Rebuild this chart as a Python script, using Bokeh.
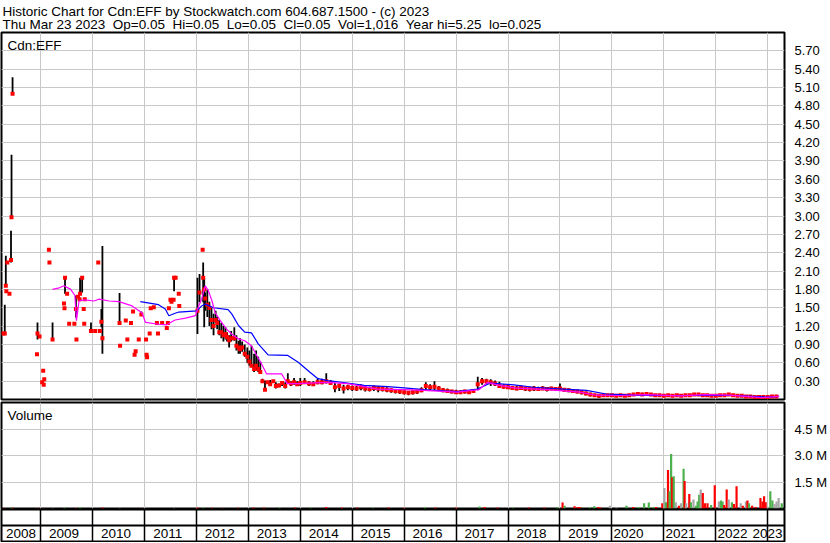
import numpy as np
from bokeh.plotting import figure
from bokeh.layouts import column
from bokeh.models import (Range1d, FixedTicker, Label, NumeralTickFormatter,
                          ColumnDataSource, Span, CustomJSTickFormatter)
from bokeh.embed import file_html
from bokeh.resources import INLINE
from bokeh.core.properties import value

# ---------------- data ----------------
title_line1 = "Historic Chart for Cdn:EFF by Stockwatch.com 604.687.1500 - (c) 2023"
title_line2 = "Thu Mar 23 2023  Op=0.05  Hi=0.05  Lo=0.05  Cl=0.05  Vol=1,016  Year hi=5.25  lo=0.025"
symbol = "Cdn:EFF"

year_labels = [2008, 2009, 2010, 2011, 2012, 2013, 2014, 2015, 2016, 2017,
               2018, 2019, 2020, 2021, 2022, 2023]
price_ticks = [0.3, 0.6, 0.9, 1.2, 1.5, 1.8, 2.1, 2.4, 2.7, 3.0, 3.3, 3.6,
               3.9, 4.2, 4.5, 4.8, 5.1, 5.4, 5.7]
volume_ticks = [1.5, 3.0, 4.5]   # millions

# irregular trading 2008 - 2013 (decimal year, high, low, close)
early_t = [2008.28, 2008.31, 2008.33, 2008.34, 2008.36, 2008.40, 2008.43, 2008.44, 2008.46,
           2008.93, 2008.94, 2008.98, 2009.03, 2009.05, 2009.06, 2009.07, 2009.16, 2009.17,
           2009.23, 2009.45, 2009.46, 2009.47, 2009.51, 2009.55, 2009.65, 2009.68, 2009.69,
           2009.72, 2009.75, 2009.76, 2009.80, 2009.83, 2009.84, 2009.85, 2009.97, 2010.05,
           2010.11, 2010.14, 2010.17, 2010.19, 2010.52, 2010.53, 2010.64, 2010.67, 2010.74,
           2010.78, 2010.81, 2010.83, 2010.89, 2010.94, 2011.03, 2011.04, 2011.05, 2011.10,
           2011.12, 2011.18, 2011.24, 2011.26, 2011.34, 2011.43, 2011.45, 2011.47, 2011.50,
           2011.52, 2011.56, 2011.57, 2011.60, 2011.66, 2011.67, 2012.02, 2012.06, 2012.12,
           2012.13, 2012.15, 2012.17, 2012.21, 2012.25, 2012.29, 2012.33, 2012.37, 2012.40,
           2012.44, 2012.48, 2012.52, 2012.56, 2012.59, 2012.63, 2012.67, 2012.73, 2012.77,
           2012.81, 2012.84, 2012.88, 2012.93, 2012.98, 2013.02, 2013.06, 2013.11, 2013.15,
           2013.19, 2013.23, 2013.27, 2013.32, 2013.37, 2013.42, 2013.48, 2013.53, 2013.59,
           2013.65, 2013.71, 2013.76, 2013.82, 2013.88, 2013.94]
early_hi = [1.08, 1.55, 2.35, 1.77, 2.24, 1.73, 2.76, 4.00, 5.27,
            0.74, 1.26, 1.03, 0.28, 0.47, 0.24, 0.33, 2.45, 2.24,
            1.26, 1.57, 1.49, 1.99, 1.73, 1.24, 1.24, 1.70, 0.98,
            1.68, 1.64, 1.99, 1.99, 1.48, 1.24, 1.64, 1.26, 1.12,
            2.24, 1.12, 1.48, 2.51, 1.74, 0.88, 1.29, 0.98, 1.25,
            1.44, 0.73, 0.79, 0.98, 1.44, 0.98, 0.73, 0.69, 1.08,
            1.49, 1.51, 1.25, 1.08, 1.25, 1.17, 1.25, 1.49, 1.63,
            1.60, 1.63, 1.99, 1.99, 1.73, 1.53, 1.99, 2.05, 2.45,
            2.24, 1.99, 1.75, 1.80, 1.60, 1.50, 1.40, 1.45, 1.35,
            1.30, 1.25, 1.20, 1.18, 1.10, 1.05, 1.12, 1.18, 1.05,
            0.96, 1.00, 0.95, 0.90, 0.85, 0.80, 0.88, 0.75, 0.80,
            0.70, 0.62, 0.34, 0.31, 0.30, 0.32, 0.30, 0.28, 0.26,
            0.30, 0.28, 0.43, 0.30, 0.35, 0.30]
early_lo = [1.08, 1.08, 1.86, 1.77, 2.24, 1.73, 2.24, 2.98, 5.00,
            0.74, 0.98, 1.03, 0.28, 0.47, 0.24, 0.33, 2.45, 2.24,
            0.98, 1.57, 1.49, 1.73, 1.73, 1.24, 1.24, 1.34, 0.98,
            1.68, 1.64, 1.73, 1.75, 1.48, 1.24, 1.64, 1.12, 1.12,
            2.24, 1.12, 1.18, 0.75, 1.23, 0.88, 1.29, 0.98, 1.25,
            1.44, 0.73, 0.79, 0.98, 1.39, 0.98, 0.73, 0.69, 1.08,
            1.49, 1.51, 1.25, 1.08, 1.25, 1.17, 1.25, 1.49, 1.63,
            1.60, 1.63, 1.77, 1.99, 1.73, 1.53, 1.07, 1.59, 2.45,
            1.59, 1.18, 1.45, 1.35, 1.20, 1.15, 1.05, 1.25, 1.15,
            1.05, 1.00, 0.95, 0.98, 0.95, 0.85, 0.95, 0.96, 0.80,
            0.75, 0.75, 0.78, 0.70, 0.60, 0.55, 0.53, 0.45, 0.48,
            0.45, 0.42, 0.28, 0.15, 0.26, 0.22, 0.30, 0.18, 0.20,
            0.22, 0.18, 0.26, 0.22, 0.24, 0.22]
early_cl = [1.08, 1.08, 1.86, 1.77, 2.24, 1.73, 2.28, 2.98, 5.00,
            0.74, 1.08, 1.03, 0.28, 0.47, 0.24, 0.33, 2.45, 2.24,
            0.98, 1.57, 1.49, 1.99, 1.73, 1.24, 1.24, 1.48, 0.98,
            1.68, 1.64, 1.73, 1.99, 1.48, 1.24, 1.64, 1.12, 1.12,
            2.24, 1.12, 1.27, 1.00, 1.25, 0.88, 1.29, 0.98, 1.25,
            1.44, 0.73, 0.79, 0.98, 1.39, 0.98, 0.73, 0.69, 1.08,
            1.49, 1.51, 1.25, 1.08, 1.25, 1.17, 1.25, 1.49, 1.63,
            1.60, 1.63, 1.99, 1.99, 1.73, 1.53, 1.45, 1.75, 2.45,
            1.99, 1.80, 1.65, 1.55, 1.50, 1.30, 1.20, 1.30, 1.25,
            1.10, 1.10, 1.05, 1.07, 1.02, 0.97, 1.00, 1.00, 0.88,
            0.85, 0.82, 0.85, 0.75, 0.70, 0.62, 0.55, 0.50, 0.55,
            0.50, 0.45, 0.30, 0.16, 0.28, 0.25, 0.30, 0.22, 0.23,
            0.27, 0.22, 0.30, 0.26, 0.28, 0.25]

# monthly bars Jan 2014 - Mar 2023
monthly_start = 2014.0
monthly_hi = [0.35, 0.35, 0.30, 0.30, 0.34, 0.34, 0.43, 0.32, 0.27, 0.26, 0.24, 0.24,
              0.23, 0.22, 0.25, 0.22, 0.21, 0.23, 0.22, 0.21, 0.20, 0.18, 0.17, 0.16,
              0.15, 0.14, 0.15, 0.16, 0.20, 0.28, 0.25, 0.30, 0.22, 0.19, 0.18, 0.16,
              0.16, 0.15, 0.16, 0.15, 0.17, 0.37, 0.35, 0.34, 0.33, 0.31, 0.29, 0.25,
              0.24, 0.22, 0.22, 0.23, 0.21, 0.21, 0.22, 0.21, 0.22, 0.20, 0.21, 0.20,
              0.26, 0.19, 0.18, 0.17, 0.16, 0.15, 0.13, 0.11, 0.09, 0.08, 0.09, 0.09,
              0.09, 0.08, 0.09, 0.08, 0.09, 0.10, 0.11, 0.11, 0.10, 0.10, 0.09, 0.09,
              0.08, 0.09, 0.08, 0.09, 0.08, 0.09, 0.09, 0.10, 0.10, 0.09, 0.09, 0.08,
              0.08, 0.09, 0.09, 0.09, 0.09, 0.08, 0.08, 0.07, 0.07, 0.06, 0.06, 0.06,
              0.06, 0.06, 0.07]
monthly_lo = [0.22, 0.27, 0.22, 0.22, 0.25, 0.25, 0.26, 0.24, 0.12, 0.14, 0.10, 0.15,
              0.14, 0.14, 0.15, 0.13, 0.13, 0.14, 0.12, 0.13, 0.12, 0.11, 0.10, 0.09,
              0.08, 0.07, 0.08, 0.09, 0.12, 0.16, 0.15, 0.15, 0.14, 0.12, 0.11, 0.10,
              0.09, 0.09, 0.10, 0.10, 0.11, 0.15, 0.24, 0.25, 0.22, 0.22, 0.20, 0.18,
              0.17, 0.16, 0.15, 0.16, 0.14, 0.13, 0.14, 0.14, 0.15, 0.13, 0.15, 0.14,
              0.15, 0.13, 0.12, 0.11, 0.10, 0.08, 0.07, 0.05, 0.04, 0.03, 0.05, 0.05,
              0.05, 0.05, 0.05, 0.04, 0.05, 0.06, 0.07, 0.06, 0.07, 0.06, 0.05, 0.05,
              0.05, 0.05, 0.04, 0.05, 0.05, 0.05, 0.05, 0.06, 0.06, 0.05, 0.05, 0.04,
              0.05, 0.05, 0.05, 0.06, 0.05, 0.05, 0.04, 0.04, 0.04, 0.03, 0.03, 0.03,
              0.03, 0.03, 0.04]
monthly_cl = [0.27, 0.28, 0.26, 0.25, 0.28, 0.28, 0.30, 0.27, 0.20, 0.22, 0.18, 0.20,
              0.19, 0.18, 0.20, 0.18, 0.17, 0.19, 0.18, 0.17, 0.16, 0.15, 0.14, 0.13,
              0.12, 0.11, 0.12, 0.13, 0.15, 0.22, 0.20, 0.21, 0.18, 0.15, 0.14, 0.13,
              0.12, 0.12, 0.13, 0.12, 0.14, 0.25, 0.30, 0.30, 0.28, 0.26, 0.22, 0.21,
              0.20, 0.19, 0.18, 0.19, 0.18, 0.17, 0.18, 0.17, 0.18, 0.17, 0.18, 0.17,
              0.18, 0.16, 0.15, 0.14, 0.13, 0.12, 0.10, 0.08, 0.07, 0.06, 0.07, 0.07,
              0.07, 0.06, 0.07, 0.06, 0.07, 0.08, 0.09, 0.08, 0.09, 0.08, 0.07, 0.07,
              0.06, 0.07, 0.06, 0.07, 0.06, 0.07, 0.07, 0.08, 0.08, 0.07, 0.07, 0.06,
              0.06, 0.07, 0.07, 0.08, 0.07, 0.06, 0.06, 0.05, 0.05, 0.04, 0.04, 0.04,
              0.04, 0.05, 0.05]

# moving averages (decimal year, value)
ma_long_t = [2010.92, 2011.27, 2011.40, 2011.47, 2011.59, 2011.66, 2012.01, 2012.10, 2012.17,
             2012.33, 2012.61, 2012.68, 2012.81, 2012.93, 2013.06, 2013.19, 2013.38, 2013.76,
             2013.96, 2014.18, 2014.34, 2014.53, 2014.91, 2015.23, 2015.68, 2016.00, 2016.38,
             2016.77, 2017.02, 2017.41, 2017.66, 2018.11, 2018.49, 2019.07, 2019.51, 2019.89,
             2020.41, 2020.98, 2021.68, 2022.39, 2022.96, 2023.22]
ma_long_v = [1.60, 1.55, 1.48, 1.37, 1.41, 1.43, 1.45, 1.53, 1.56,
             1.50, 1.47, 1.40, 1.21, 1.10, 1.09, 0.91, 0.73, 0.72,
             0.61, 0.45, 0.34, 0.31, 0.27, 0.23, 0.21, 0.19, 0.16,
             0.14, 0.13, 0.17, 0.27, 0.24, 0.20, 0.17, 0.15, 0.09,
             0.07, 0.065, 0.065, 0.065, 0.04, 0.05]
ma_short_t = [2009.23, 2009.34, 2009.45, 2009.58, 2009.66, 2009.69, 2009.74, 2009.84, 2010.03,
              2010.12, 2010.32, 2010.51, 2010.76, 2010.95, 2011.02, 2011.27, 2011.43, 2011.50,
              2011.59, 2011.79, 2011.98, 2012.03, 2012.10, 2012.17, 2012.23, 2012.30, 2012.36,
              2012.46, 2012.58, 2012.68, 2012.81, 2012.93, 2013.06, 2013.16, 2013.25, 2013.35,
              2013.64, 2013.75, 2013.96, 2014.53, 2014.91, 2015.49, 2016.00, 2016.38, 2017.02,
              2017.44, 2017.60, 2017.79, 2018.11, 2018.75, 2019.38, 2019.70, 2020.15, 2020.66,
              2021.30, 2021.81, 2022.26, 2022.90, 2023.22]
ma_short_v = [1.80, 1.82, 1.86, 1.80, 1.70, 1.29, 1.61, 1.63, 1.61,
              1.64, 1.61, 1.60, 1.53, 1.42, 1.26, 1.23, 1.22, 1.26,
              1.30, 1.33, 1.37, 1.50, 1.64, 1.86, 1.78, 1.61, 1.42,
              1.29, 1.15, 1.07, 0.99, 0.96, 0.88, 0.72, 0.59, 0.42,
              0.42, 0.26, 0.26, 0.28, 0.26, 0.17, 0.16, 0.15, 0.12,
              0.16, 0.28, 0.24, 0.19, 0.16, 0.12, 0.07, 0.065, 0.08,
              0.06, 0.08, 0.07, 0.03, 0.05]

# volume (decimal year, millions of shares, direction r=down g=up n=unchanged)
vol_t = [2008.30, 2008.44, 2008.46, 2008.94, 2009.05, 2009.23, 2009.46, 2009.68, 2009.76,
         2010.19, 2010.52, 2010.94, 2011.57, 2012.02, 2012.13, 2012.30, 2012.50, 2012.80,
         2013.10, 2013.30, 2013.60, 2013.90, 2014.20, 2014.50, 2014.80, 2015.10, 2015.40,
         2015.70, 2016.00, 2016.40, 2016.60, 2017.00, 2017.45, 2017.55, 2017.80, 2018.10,
         2018.40, 2018.70, 2018.95,
         2019.05, 2019.09, 2019.28, 2019.34, 2019.38, 2019.57, 2019.66, 2019.74, 2019.78,
         2019.96, 2020.09, 2020.28, 2020.41, 2020.51, 2020.62, 2020.71, 2020.80, 2020.85,
         2020.97, 2021.01, 2021.04, 2021.08, 2021.11, 2021.14, 2021.16, 2021.19, 2021.23,
         2021.29, 2021.33, 2021.38, 2021.40, 2021.43, 2021.49, 2021.52, 2021.57, 2021.62,
         2021.65, 2021.68, 2021.71, 2021.75, 2021.79, 2021.84, 2021.91, 2021.98, 2022.06,
         2022.10, 2022.13, 2022.16, 2022.21, 2022.25, 2022.31, 2022.35, 2022.40, 2022.48,
         2022.52, 2022.58, 2022.61, 2022.64, 2022.70, 2022.77, 2022.86, 2022.90, 2022.93,
         2022.96, 2023.00, 2023.05, 2023.09, 2023.13, 2023.17, 2023.21, 2023.27]
vol_m = [0.03, 0.05, 0.04, 0.03, 0.02, 0.03, 0.04, 0.03, 0.05,
         0.06, 0.03, 0.02, 0.03, 0.05, 0.06, 0.04, 0.03, 0.04,
         0.05, 0.06, 0.04, 0.05, 0.06, 0.08, 0.05, 0.06, 0.04,
         0.05, 0.04, 0.08, 0.06, 0.05, 0.12, 0.08, 0.05, 0.06,
         0.05, 0.06, 0.08,
         0.34, 0.15, 0.13, 0.08, 0.08, 0.08, 0.13, 0.09, 0.06,
         0.15, 0.04, 0.15, 0.08, 0.08, 0.30, 0.34, 0.08, 0.08,
         0.30, 1.16, 0.35, 2.18, 0.97, 3.09, 1.77, 1.83, 0.35,
         0.15, 0.30, 2.25, 1.55, 0.30, 0.82, 0.35, 0.51, 0.15,
         0.40, 0.78, 1.07, 0.88, 0.30, 0.30, 0.20, 1.32, 0.40,
         0.45, 0.40, 0.20, 1.07, 0.51, 0.35, 0.25, 1.26, 0.30,
         0.15, 0.40, 0.45, 0.30, 0.15, 0.08, 0.59, 0.40, 0.69,
         0.35, 0.10, 0.97, 0.45, 0.25, 0.40, 0.59, 0.30]
vol_dir = ["r", "g", "r", "r", "r", "g", "g", "r", "g",
           "r", "g", "r", "g", "r", "g", "r", "r", "r",
           "r", "r", "g", "r", "g", "r", "r", "r", "g",
           "r", "r", "g", "r", "r", "g", "r", "r", "g",
           "r", "r", "g",
           "r", "g", "r", "r", "r", "g", "g", "r", "r",
           "n", "n", "g", "r", "g", "g", "g", "g", "r",
           "r", "n", "g", "r", "g", "g", "r", "g", "n",
           "r", "n", "g", "r", "n", "r", "g", "n", "g",
           "g", "g", "n", "r", "r", "r", "g", "r", "n",
           "g", "g", "r", "r", "n", "g", "r", "r", "n",
           "r", "n", "r", "g", "r", "r", "r", "r", "r",
           "r", "n", "g", "g", "n", "n", "n", "g"]

# ---------------- styling / layout ----------------
FONT = "Liberation Sans"
FS = "13.5px"
W = 830
LB, RB = 1, 41
FRAME_W = W - LB - RB
GRID = "#c8c8c8"
x_start, x_end = 2008.247, 2023.323
px_per_year = FRAME_W / (x_end - x_start)
xr = Range1d(x_start, x_end)
grid_years = year_labels[1:]
H_HEAD, H_PRICE, H_VOL, H_DATE = 31, 370, 108, 33

dir_color = {"r": "#ff0000", "g": "#4cb04c", "n": "#a6a6a6"}


def base_fig(height, y_range, top, bottom, yaxis=True):
    f = figure(width=W, height=height, x_range=xr, y_range=y_range,
               x_axis_location=None, y_axis_location="right" if yaxis else None,
               toolbar_location=None, output_backend="svg",
               min_border_left=LB, min_border_right=RB,
               min_border_top=top, min_border_bottom=bottom)
    f.outline_line_color = "black"
    f.outline_line_width = 2
    f.background_fill_color = "white"
    f.border_fill_color = "white"
    f.xgrid.ticker = FixedTicker(ticks=grid_years)
    f.xgrid.grid_line_color = GRID
    f.xgrid.grid_line_width = 1
    if yaxis:
        ax = f.yaxis[0]
        ax.axis_line_color = None
        ax.major_tick_line_color = None
        ax.minor_tick_line_color = None
        ax.major_label_text_font = FONT
        ax.major_label_text_font_size = "13px"
        ax.major_label_text_color = "black"
        ax.major_label_standoff = 4
        f.ygrid.grid_line_color = GRID
        f.ygrid.grid_line_width = 1
    else:
        f.ygrid.visible = False
    return f


# header
header = figure(width=W, height=H_HEAD, x_range=Range1d(0, W), y_range=Range1d(0, H_HEAD),
                x_axis_location=None, y_axis_location=None, toolbar_location=None,
                output_backend="svg", min_border=0)
header.grid.visible = False
header.outline_line_color = None
header.add_layout(Label(x=1, y=H_HEAD - 11, text=title_line1, text_font=FONT,
                        text_font_size=FS, text_baseline="alphabetic", text_color="black"))
header.add_layout(Label(x=1, y=H_HEAD - 24, text=title_line2.replace("  ", " \u00a0"),
                        text_font=FONT, text_font_size=FS, text_baseline="alphabetic",
                        text_color="black"))

# price panel
p = base_fig(H_PRICE, Range1d(0, 6.0), 1, 2)
p.yaxis.ticker = FixedTicker(ticks=price_ticks)
p.ygrid.ticker = FixedTicker(ticks=price_ticks)
p.yaxis.formatter = NumeralTickFormatter(format="0.00")

monthly_t = monthly_start + np.arange(len(monthly_cl)) / 12.0
bars = ColumnDataSource(dict(
    t=list(early_t) + list(monthly_t),
    hi=early_hi + monthly_hi,
    lo=early_lo + monthly_lo,
    cl=early_cl + monthly_cl,
))
p.segment(x0="t", y0="lo", x1="t", y1="hi", source=bars, line_color="black", line_width=1.8)
p.scatter(x="t", y="cl", source=bars, marker="square", size=4, color="#ff0000", line_width=0)
p.line(ma_long_t, ma_long_v, line_color="#0000ff", line_width=1.2)
p.line(ma_short_t, ma_short_v, line_color="#ff00ff", line_width=1.2)
price_frame_h = H_PRICE - 1 - 2
p.add_layout(Label(x=x_start + 6 / px_per_year, y=6.0 - 13 * 6.0 / price_frame_h, text=symbol,
                   text_font=FONT, text_font_size=FS, text_baseline="alphabetic",
                   text_color="black"))

# volume panel
v = base_fig(H_VOL, Range1d(0, 6.0), 1, 1)
v.yaxis.ticker = FixedTicker(ticks=volume_ticks)
v.ygrid.ticker = FixedTicker(ticks=volume_ticks)
v.yaxis.formatter = CustomJSTickFormatter(code="return tick.toFixed(1) + ' M'")
vsrc = ColumnDataSource(dict(t=vol_t, m=vol_m, c=[dir_color[d] for d in vol_dir]))
v.vbar(x="t", top="m", bottom=0, width=2.2 / px_per_year, source=vsrc,
       fill_color="c", line_color=None)
vol_frame_h = H_VOL - 2
v.add_layout(Label(x=x_start + 6 / px_per_year, y=6.0 - 13 * 6.0 / vol_frame_h, text="Volume",
                   text_font=FONT, text_font_size=FS, text_baseline="alphabetic",
                   text_color="black"))

# date strip
b = base_fig(H_DATE, Range1d(0, 2), 0, 1, yaxis=False)
b.xgrid.grid_line_color = "black"
b.xgrid.grid_line_width = 1.5
b.add_layout(Span(location=1, dimension="width", line_color="black", line_width=2))
lab_x = ([(x_start + 2009) / 2]
         + [y + (0.45 if y < 2020 else 0.32) for y in year_labels[1:-1]])
lab_src = ColumnDataSource(dict(x=lab_x, y=[0.5] * len(lab_x),
                                t=[str(y) for y in year_labels[:-1]]))
b.text(x="x", y="y", text="t", source=lab_src, text_align="center", text_baseline="middle",
       text_font=value(FONT), text_font_size=FS, text_color="black")
b.text(x=[x_end], y=[0.5], text=[str(year_labels[-1])], x_offset=-2, text_align="right",
       text_baseline="middle", text_font=value(FONT), text_font_size=FS, text_color="black")

layout = column(header, p, v, b, spacing=0)
open("out.html", "w").write(file_html(layout, INLINE))
